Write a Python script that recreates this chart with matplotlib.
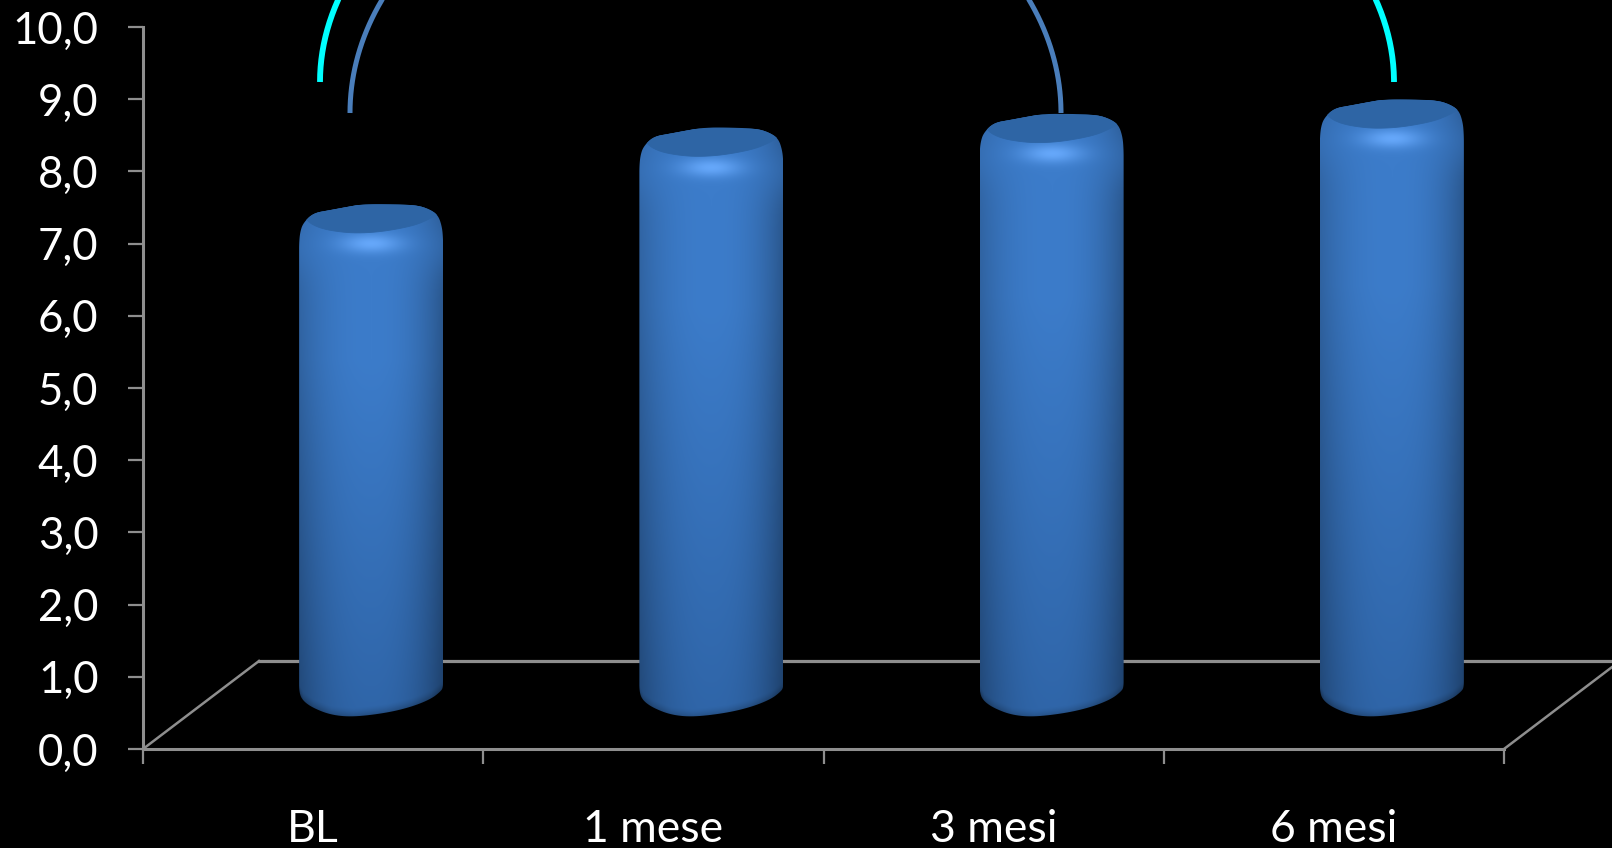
import numpy as np
import matplotlib
matplotlib.use("Agg")
import matplotlib.pyplot as plt
from matplotlib.path import Path
from matplotlib.patches import PathPatch

# Chart content
categories = ["BL", "1 mese", "3 mesi", "6 mesi"]
values = [6.73, 7.79, 7.98, 8.18]
y_ticks = [0, 1, 2, 3, 4, 5, 6, 7, 8, 9, 10]
y_tick_labels = ["0,0", "1,0", "2,0", "3,0", "4,0", "5,0", "6,0", "7,0", "8,0", "9,0", "10,0"]

W, H = 1612, 848
AX_L, AX_R, AX_B, AX_T = 143.0, 1504.0, 749.0, 27.0
PX_X = (AX_R - AX_L) / len(categories)   # pixels per category
PX_Y = (AX_B - AX_T) / 10.0              # pixels per value unit
DEPTH_X, DEPTH_Y = 116 / PX_X, 88 / PX_Y  # floor depth in data units
BAR_HALF = 72

GREY = "#8e8e8e"

plt.rcParams["font.family"] = ["Lato", "DejaVu Sans"]
fig = plt.figure(figsize=(W / 100, H / 100), dpi=100, facecolor="black")
ax = fig.add_axes([AX_L / W, 1 - AX_B / H, (AX_R - AX_L) / W, (AX_B - AX_T) / H])
ax.set_facecolor("none")
ax.set_xlim(0, len(categories))
ax.set_ylim(0, 10)

for side in ("top", "right"):
    ax.spines[side].set_visible(False)
for side in ("left", "bottom"):
    ax.spines[side].set_color(GREY)
    ax.spines[side].set_linewidth(2.2)

ax.set_yticks(y_ticks, y_tick_labels)
ax.tick_params(axis="y", length=11, width=1.6, color=GREY, pad=21,
               labelcolor="white", labelsize=31.5)
ax.set_xticks(range(len(categories) + 1), [""] * (len(categories) + 1))
ax.tick_params(axis="x", length=11, width=1.6, color=GREY)
ax.set_xticks(np.arange(len(categories)) + 0.5, categories, minor=True)
ax.tick_params(axis="x", which="minor", length=0, pad=43, labelcolor="white", labelsize=32)

# Floor of the 3D box
n = len(categories)
ax.plot([0, DEPTH_X], [0, DEPTH_Y], color=GREY, lw=1.8, clip_on=False, zorder=1)
ax.plot([n, n + DEPTH_X], [0, DEPTH_Y], color=GREY, lw=1.8, clip_on=False, zorder=1)
ax.plot([DEPTH_X, n + DEPTH_X], [DEPTH_Y, DEPTH_Y], color=GREY, lw=2.3, clip_on=False, zorder=1)


def smooth(points, rounds=3):
    """Corner-cut a closed polygon so the outline reads as a curve."""
    p = np.asarray(points, float)
    for _ in range(rounds):
        q = np.roll(p, -1, axis=0)
        p = np.column_stack([0.75 * p + 0.25 * q, 0.25 * p + 0.75 * q]).reshape(-1, 2)
    return p


# Cylinder outline: offsets in pixels from the bar centre and the top / bottom edge
TOP_EDGE = [(-72, 50), (-72, 38), (-71, 27), (-68, 18), (-58, 8), (-41, 5), (-25, 2), (-8, -1),
            (20, -1), (45, 0), (58, 4), (67, 10), (71, 22), (72, 35), (72, 50)]
BOTTOM_EDGE = [(72, -40), (72, -29), (70, -25), (60, -17), (40, -9), (15, -3), (-18, 1),
               (-40, -1), (-58, -8), (-68, -15), (-72, -23), (-72, -40)]
CAP_LOWER = [(68, 7), (68, 7), (63, 11), (56, 15), (44, 20), (26, 24), (6, 27), (-14, 28),
             (-30, 27), (-48, 24), (-60, 19), (-66, 13), (-66, 13)]
CAP_UPPER = [(-66, 13), (-58, 8), (-41, 5), (-25, 2), (-8, -1), (20, -1), (45, 0), (58, 3), (68, 7)]

BASE_OFFSET = 11   # bar bottom edge below the projected zero of its centre
TOP_OFFSET = 14    # bar top edge above the projected value of its centre


def to_data(dx_px, y_px):
    """Bar-local pixel offsets to data coordinates."""
    return dx_px / PX_X, (AX_B - y_px) / PX_Y


def bar_shading(width, height):
    yy, xx = np.mgrid[0:height, 0:width]
    u = (xx - width / 2) / (width / 2)
    t = yy / height
    top_col = np.array([60, 124, 202]) / 255
    bot_col = np.array([47, 101, 168]) / 255
    blend = np.clip((t - 0.3) / 0.7, 0, 1)[..., None]
    col = top_col[None, None] * (1 - blend) + bot_col[None, None] * blend
    # sideways falloff of the cylinder: stronger on the right, weaker in the top bevel
    bevel = np.exp(-((yy - 40) / 30.0) ** 2)
    side = np.where(u < 0, 0.17 + 0.12 * t, 0.29 + 0.08 * t)
    edge = 1 - side * (1 - 0.4 * bevel) * np.abs(u) ** 2.4
    img = col * edge[..., None]
    # specular spot under the lip
    spot = np.exp(-((xx - width / 2) / 30.0) ** 2 - ((yy - 38) / 9.5) ** 2)
    img = img + spot[..., None] * (np.array([106, 172, 255]) / 255 - img) * 0.9
    # soft darker rim following the curved bottom edge
    bx = [p[0] for p in BOTTOM_EDGE[1:-1]][::-1]
    by = [p[1] for p in BOTTOM_EDGE[1:-1]][::-1]
    edge_y = height - 2 + np.interp(xx - width / 2, bx, by)
    fade = np.clip(1 - (edge_y - yy) / 9.0, 0, 1) ** 1.5
    img = img * (1 - 0.22 * fade[..., None])
    return np.clip(img, 0, 1)


for i, value in enumerate(values):
    cx_data = i + 0.5 + DEPTH_X / 2
    centre_y = AX_B - (value + DEPTH_Y / 2) * PX_Y
    top_y = centre_y - TOP_OFFSET
    bottom_y = AX_B - (DEPTH_Y / 2) * PX_Y + BASE_OFFSET

    outline = [(dx, top_y + dy) for dx, dy in TOP_EDGE] + [(dx, bottom_y + dy) for dx, dy in BOTTOM_EDGE]
    outline = smooth(outline)
    xy = np.array([(cx_data + to_data(dx, y)[0], to_data(dx, y)[1]) for dx, y in outline])
    clip = PathPatch(Path(np.vstack([xy, xy[0]]), closed=True), transform=ax.transData,
                     facecolor="none", edgecolor="none")
    ax.add_patch(clip)

    w_px, h_px = 2 * BAR_HALF, int(bottom_y - top_y) + 2
    shade = bar_shading(w_px, h_px)
    left = cx_data - BAR_HALF / PX_X
    right = cx_data + BAR_HALF / PX_X
    im = ax.imshow(shade, extent=[left, right, (AX_B - top_y - h_px) / PX_Y, (AX_B - top_y) / PX_Y],
                   aspect="auto", zorder=3, interpolation="bilinear", clip_on=True)
    im.set_clip_path(clip)
    ax.set_xlim(0, n)
    ax.set_ylim(0, 10)

    cap = [(dx, top_y + dy) for dx, dy in CAP_UPPER + CAP_LOWER]
    cap = smooth(cap, 2)
    cap_xy = np.array([(cx_data + to_data(dx, y)[0], to_data(dx, y)[1]) for dx, y in cap])
    cap_patch = PathPatch(Path(np.vstack([cap_xy, cap_xy[0]]), closed=True), transform=ax.transData,
                          facecolor="#2e65a5", edgecolor="#2e65a5", lw=0.6, zorder=4)
    cap_patch.set_clip_path(clip)
    ax.add_patch(cap_patch)


def bracket(x_start, x_end, foot_y, half_height, color, lw):
    """Half-ellipse connector rising from two feet, cut off by the top of the figure."""
    mid, half = (x_start + x_end) / 2, (x_end - x_start) / 2
    theta = np.linspace(0, np.pi, 400)
    px = mid - half * np.cos(theta)
    py = foot_y - half_height * np.sin(theta)
    ax.plot((px - AX_L) / PX_X, (AX_B - py) / PX_Y, color=color, lw=lw, clip_on=False,
            solid_capstyle="butt", zorder=5)


bracket(320, 1394, 82, 319, "#00ffff", 4.2)
bracket(350, 1061, 113, 273, "#4a7ebb", 3.6)

fig.savefig("out.png", dpi=100, facecolor="black")
